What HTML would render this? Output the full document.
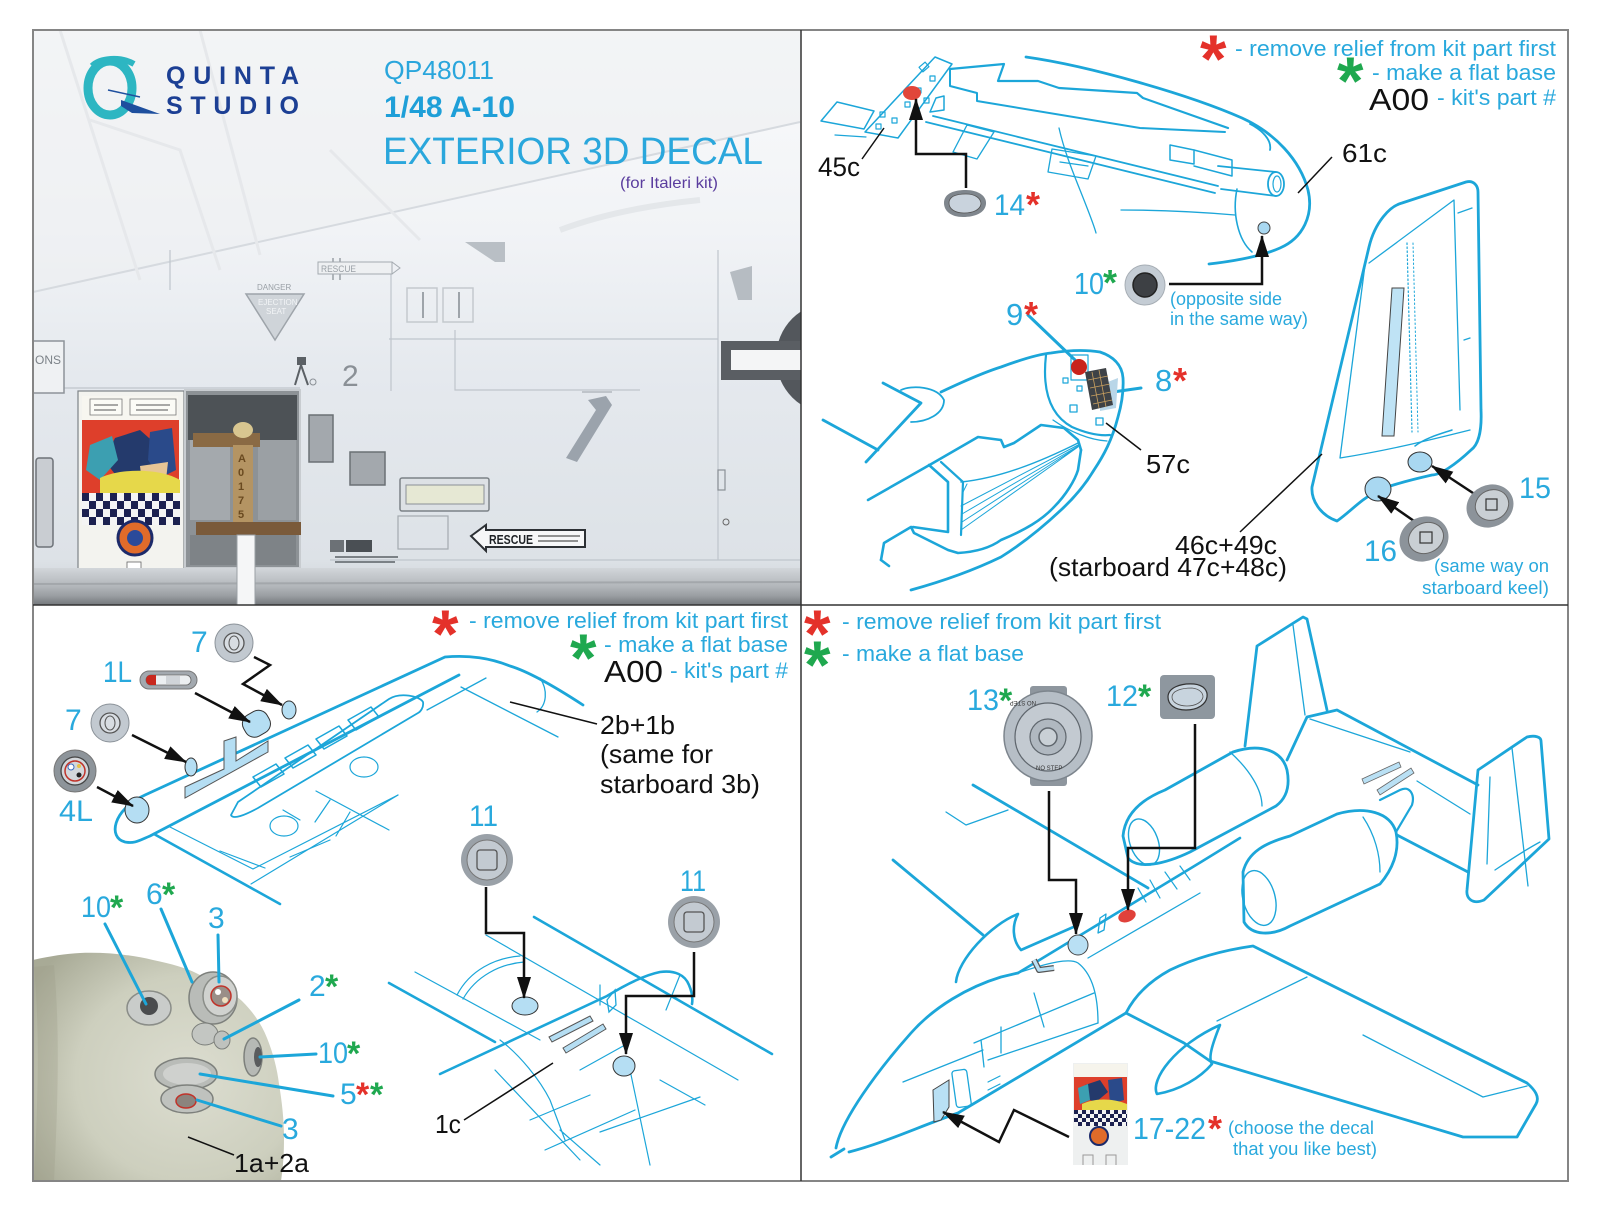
<!DOCTYPE html>
<html><head><meta charset="utf-8">
<style>
html,body{margin:0;padding:0;background:#fff;}
svg{display:block;}
text{font-family:"Liberation Sans",Arial,sans-serif;}
</style></head><body>
<svg width="1600" height="1210" viewBox="0 0 1600 1210" xmlns="http://www.w3.org/2000/svg">
<defs>
  <marker id="ah" markerUnits="userSpaceOnUse" markerWidth="22" markerHeight="14" refX="21" refY="7" orient="auto">
    <path d="M0,0 L22,7 L0,14 Z" fill="#111"/>
  </marker>
  <clipPath id="photo"><rect x="33" y="30" width="768" height="575"/></clipPath>
  <clipPath id="blpanel"><rect x="34" y="606" width="766" height="574"/></clipPath>
  <linearGradient id="bg" x1="0" y1="0" x2="0" y2="1">
    <stop offset="0" stop-color="#fafbfc"/>
    <stop offset="0.35" stop-color="#f1f3f6"/>
    <stop offset="0.6" stop-color="#e5e9ee"/>
    <stop offset="0.92" stop-color="#dde2e7"/>
    <stop offset="1" stop-color="#c9cdd1"/>
  </linearGradient>
  <linearGradient id="strip" x1="0" y1="0" x2="0" y2="1">
    <stop offset="0" stop-color="#d2d6da"/>
    <stop offset="0.5" stop-color="#b2b6ba"/>
    <stop offset="0.75" stop-color="#9a9ea2"/>
    <stop offset="1" stop-color="#74787c"/>
  </linearGradient>
  <radialGradient id="pod" cx="0.62" cy="0.55" r="0.75">
    <stop offset="0" stop-color="#dcddd0"/>
    <stop offset="0.6" stop-color="#cdcfbe"/>
    <stop offset="1" stop-color="#a8aa96"/>
  </radialGradient>
  <pattern id="chk" x="82" y="493" width="14" height="16" patternUnits="userSpaceOnUse">
    <rect width="14" height="16" fill="#f4f4f4"/>
    <rect width="7" height="8" fill="#1c2150"/>
    <rect x="7" y="8" width="7" height="8" fill="#1c2150"/>
  </pattern>
  <pattern id="chk2" x="1074" y="1110" width="8" height="8" patternUnits="userSpaceOnUse">
    <rect width="8" height="8" fill="#f4f4f4"/>
    <rect width="4" height="4" fill="#1c2150"/>
    <rect x="4" y="4" width="4" height="4" fill="#1c2150"/>
  </pattern>
</defs>

<!-- ================= TOP-LEFT PHOTO PANEL ================= -->
<g clip-path="url(#photo)">
  <rect x="33" y="30" width="768" height="575" fill="url(#bg)"/>
  <path d="M33,30 L800,30 L800,122 L33,292 Z" fill="#eceef1" opacity="0.55"/>
  <path d="M33,292 L800,122" stroke="#d6dadf" stroke-width="2" fill="none"/>
  <path d="M60,30 L140,280 M200,30 L260,255 M330,150 L420,240 M90,120 L180,150 L220,270" stroke="#e6e8eb" stroke-width="3" fill="none"/>
  <path d="M560,230 C600,215 650,205 700,200" stroke="#e4e7ea" stroke-width="6" fill="none"/>
  <g stroke="#bfc5cc" stroke-width="1.2" fill="none">
    <path d="M389,339 L718,339"/>
    <path d="M391,262 L391,391"/>
    <path d="M455,330 L455,390 L640,390"/>
    <path d="M33,388 L300,388"/>
    <path d="M718,250 L718,560"/>
    <path d="M330,560 L800,560"/>
    <path d="M170,250 L170,290"/>
  </g>
  <path d="M333,258 L333,280 M340,258 L340,280" stroke="#9aa0a6" stroke-width="1.5"/>
  <rect x="318" y="262" width="74" height="12" fill="#eef0f2" stroke="#a4aab0" stroke-width="1"/>
  <path d="M392,262 L400,268 L392,274" fill="none" stroke="#a4aab0"/>
  <text x="321" y="272" font-size="9" fill="#9aa0a6" textLength="35" lengthAdjust="spacingAndGlyphs">RESCUE</text>
  <rect x="407" y="288" width="30" height="34" fill="none" stroke="#c4c9ce" stroke-width="1.5"/>
  <rect x="443" y="288" width="30" height="34" fill="none" stroke="#c4c9ce" stroke-width="1.5"/>
  <path d="M423,292 L423,318 M459,292 L459,318" stroke="#9ea4aa" stroke-width="2"/>
  <path d="M465,242 L505,242 L505,262 L495,262 Z" fill="#b9bfc5"/>
  <path d="M730,272 L752,266 L752,300 L738,300 Z" fill="#b6bcc2"/>
  <text x="257" y="290" font-size="8" fill="#9aa0a6">DANGER</text>
  <path d="M246,294 L304,294 L275,340 Z" fill="#cfd4d9" stroke="#9ea4aa" stroke-width="1.5"/>
  <text x="258" y="305" font-size="8" fill="#f2f4f6">EJECTION</text>
  <text x="266" y="314" font-size="8" fill="#f2f4f6">SEAT</text>
  <rect x="33" y="341" width="31" height="52" fill="#eff1f3" stroke="#8d9399" stroke-width="1.5"/>
  <text x="35" y="364" font-size="12" fill="#7c8288">ONS</text>
  <rect x="297" y="357" width="9" height="8" fill="#5b6065"/>
  <path d="M301,365 L295,385 M301,365 L308,385" stroke="#5b6065" stroke-width="2"/>
  <text x="342" y="386" font-size="30" fill="#8a9096">2</text>
  <circle cx="313" cy="382" r="3" fill="none" stroke="#8a9096"/>
  <!-- roundel & bar -->
  <circle cx="832" cy="358" r="56" fill="#53575c"/>
  <rect x="721" y="341" width="80" height="39" fill="#5a5e63"/>
  <rect x="731" y="350" width="70" height="20" fill="#f4f5f6"/>
  <path d="M588,400 L606,396 L612,405 L577,462 L566,458 L596,410 Z" fill="#9ba3ac"/>
  <path d="M582,392 L612,392" stroke="#9aa0a6" stroke-width="1"/>
  <rect x="36" y="458" width="17" height="89" rx="3" fill="#c9cdd2" stroke="#6d7278" stroke-width="1.5"/>
  <!-- comic decal -->
  <rect x="78" y="391" width="106" height="180" fill="#f3f3ef" stroke="#7e8388" stroke-width="1.2"/>
  <rect x="82" y="396" width="96" height="26" fill="#f7f6f0"/>
  <path d="M90,399 L122,399 L122,415 L90,415 Z M130,399 L176,399 L176,415 L130,415 Z" fill="#fbfbf6" stroke="#777" stroke-width="0.8"/>
  <path d="M94,405 L118,405 M94,410 L116,410 M136,405 L170,405 M136,410 L168,410" stroke="#555" stroke-width="1"/>
  <rect x="82" y="420" width="97" height="73" fill="#de3f2b"/>
  <path d="M115,438 L140,430 L158,446 L150,470 L118,478 L104,460 Z" fill="#243a6c"/>
  <path d="M150,432 L172,428 L176,470 L160,478 L148,460 Z" fill="#2a4a8a"/>
  <path d="M90,445 L112,436 L118,460 L100,480 L86,470 Z" fill="#3c9fb1"/>
  <path d="M140,466 L168,462 L166,480 L142,482 Z" fill="#e7c595"/>
  <path d="M100,478 C120,468 160,468 180,480 L180,493 L100,493 Z" fill="#e6d84a"/>
  <rect x="82" y="493" width="98" height="32" fill="url(#chk)"/>
  <circle cx="135" cy="538" r="17" fill="#e06b2a" stroke="#1c2a6a" stroke-width="3"/>
  <circle cx="135" cy="538" r="8" fill="#2a4a9a"/>
  <rect x="127" y="562" width="14" height="7" fill="#fff" stroke="#666" stroke-width="0.8"/>
  <!-- door with ladder -->
  <rect x="185" y="390" width="115" height="178" fill="#8d9296" stroke="#c8ccd0" stroke-width="2"/>
  <rect x="188" y="395" width="109" height="45" fill="#4d5256"/>
  <rect x="190" y="440" width="40" height="80" fill="#a4a9ad"/>
  <rect x="258" y="440" width="38" height="80" fill="#9ba0a4"/>
  <rect x="190" y="535" width="106" height="30" fill="#7e8387"/>
  <rect x="193" y="433" width="67" height="14" fill="#8a6a44"/>
  <ellipse cx="243" cy="430" rx="10" ry="8" fill="#d8c690"/>
  <rect x="233" y="445" width="20" height="77" fill="#b49463"/>
  <text x="238" y="462" font-size="11" font-weight="bold" fill="#6a4a20">A</text>
  <text x="238" y="476" font-size="11" font-weight="bold" fill="#6a4a20">0</text>
  <text x="238" y="490" font-size="11" font-weight="bold" fill="#6a4a20">1</text>
  <text x="238" y="504" font-size="11" font-weight="bold" fill="#6a4a20">7</text>
  <text x="238" y="518" font-size="11" font-weight="bold" fill="#6a4a20">5</text>
  <rect x="196" y="522" width="105" height="13" fill="#7a5a3a"/>
  <rect x="309" y="415" width="24" height="47" fill="#a3a8ad" stroke="#6b7075" stroke-width="1.5"/>
  <rect x="350" y="452" width="35" height="33" fill="#a3a8ad" stroke="#6b7075" stroke-width="1.5"/>
  <rect x="400" y="478" width="89" height="33" rx="2" fill="#dde1e5" stroke="#7c8287" stroke-width="1.5"/>
  <rect x="406" y="485" width="78" height="19" fill="#e6e8d4" stroke="#8a9096" stroke-width="1"/>
  <rect x="398" y="516" width="50" height="33" fill="none" stroke="#a4aab0" stroke-width="1.2"/>
  <rect x="330" y="540" width="14" height="12" fill="#6c7176"/>
  <rect x="346" y="540" width="26" height="12" fill="#4a4f54"/>
  <path d="M335,557 L398,557 M335,562 L395,562" stroke="#7b8186" stroke-width="2"/>
  <path d="M471,536 L486,525 L486,530 L585,530 L585,547 L486,547 L486,551 Z" fill="#f6f7f8" stroke="#2c3034" stroke-width="2"/>
  <text x="489" y="544" font-size="13" font-weight="bold" fill="#1e2226" textLength="44" lengthAdjust="spacingAndGlyphs">RESCUE</text>
  <path d="M538,536 L580,536 M538,541 L578,541" stroke="#555" stroke-width="1.2"/>
  <rect x="718" y="470" width="7" height="20" fill="none" stroke="#8a9096" stroke-width="1.2"/>
  <circle cx="726" cy="522" r="3" fill="none" stroke="#666"/>
  <!-- bottom strip -->
  <rect x="33" y="568" width="768" height="37" fill="url(#strip)"/>
  <path d="M33,584 L801,582" stroke="#a3a7ab" stroke-width="2"/>
  <rect x="237" y="535" width="18" height="72" fill="#f5f6f7" stroke="#9aa0a5" stroke-width="1"/>
</g>

<!-- Logo -->
<ellipse cx="110" cy="88" rx="22" ry="27" fill="none" stroke="#2db6c2" stroke-width="9"/>
<path d="M92,66 C100,58 120,56 134,64" stroke="#2db6c2" stroke-width="6" fill="none"/>
<path d="M121,100 L160,114 L132,113 L121,106 Z" fill="#1e4f9e"/>
<path d="M108,90 L140,97" stroke="#1e4f9e" stroke-width="1.5"/>
<text x="166" y="84" font-size="25" font-weight="bold" fill="#1c3f94" textLength="133" lengthAdjust="spacing">QUINTA</text>
<text x="166" y="114" font-size="25" font-weight="bold" fill="#1c3f94" textLength="133" lengthAdjust="spacing">STUDIO</text>
<text x="384" y="79" font-size="26" fill="#2aa6dc" textLength="110" lengthAdjust="spacingAndGlyphs">QP48011</text>
<text x="384" y="117" font-size="30" font-weight="bold" fill="#1e9fd8" textLength="131" lengthAdjust="spacingAndGlyphs">1/48 A-10</text>
<text x="383" y="164" font-size="38" fill="#2aa7dc" textLength="380" lengthAdjust="spacingAndGlyphs">EXTERIOR 3D DECAL</text>
<text x="620" y="188" font-size="16" fill="#5a3d9e" textLength="98" lengthAdjust="spacingAndGlyphs">(for Italeri kit)</text>

<!-- ================= TOP-RIGHT PANEL ================= -->
<g fill="none" stroke="#1ca6d9" stroke-linecap="round" stroke-linejoin="round">
  <path d="M821,121 L837,102 L874,111 L864,129 Z" stroke-width="1.5"/>
  <path d="M835,135 L866,137" stroke-width="1.2"/>
  <path d="M865,132 L935,57 L952,64 L898,138 Z" stroke-width="1.5"/>
  <g stroke-width="1.2">
    <rect x="920" y="64" width="8" height="6" transform="rotate(-40 924 67)"/>
    <rect x="930" y="76" width="5" height="5"/>
    <rect x="916" y="88" width="5" height="5"/>
    <rect x="905" y="102" width="5" height="5"/>
    <rect x="880" y="112" width="5" height="5"/>
    <rect x="892" y="118" width="5" height="5"/>
    <rect x="876" y="124" width="5" height="5"/>
    <rect x="924" y="98" width="5" height="5"/>
  </g>
  <path d="M950,69 L1004,64 L998,81 L1038,81 L1059,88 L1137,93 L1143,98 L1228,128" stroke-width="2.2"/>
  <path d="M950,69 L950,86 L977,93 L977,101 L1140,128 L1225,132" stroke-width="2"/>
  <path d="M936,98 L944,96 L944,110 L930,112 Z" stroke-width="1.5"/>
  <path d="M933,116 L1218,186" stroke-width="1.8"/>
  <path d="M926,122 C1000,140 1100,165 1215,193" stroke-width="1.8"/>
  <path d="M1026,57 C1090,66 1190,95 1242,118 C1275,133 1300,160 1308,190 C1314,215 1303,238 1280,248 C1262,256 1235,261 1209,264" stroke-width="2.8"/>
  <path d="M1250,124 C1262,130 1272,140 1270,150" stroke-width="1.8"/>
  <path d="M1237,189 C1232,213 1238,240 1252,252" stroke-width="1.6"/>
  <path d="M1170,145 L1194,150 L1194,164 L1170,160 Z" stroke-width="1.5"/>
  <path d="M1194,150 L1232,160 L1232,176 L1194,166" stroke-width="1.5"/>
  <path d="M1218,166 L1276,172 M1221,189 L1276,196" stroke-width="1.8"/>
  <ellipse cx="1276" cy="184" rx="8" ry="12" stroke-width="1.8"/>
  <ellipse cx="1277" cy="184" rx="4" ry="8" stroke-width="1.2"/>
  <path d="M1059,128 C1064,150 1072,170 1080,190 C1088,210 1094,225 1096,233" stroke-width="1.3"/>
  <path d="M1121,210 C1160,210 1200,212 1235,215" stroke-width="1.3"/>
  <path d="M967,125 L994,132 L977,159 L953,152 Z" stroke-width="1.3"/>
  <path d="M1052,149 L1096,156 L1088,179 L1048,172 Z M1060,162 L1088,166" stroke-width="1.3"/>

  <path d="M883,383 L921,403 L866,462" stroke-width="2.8"/>
  <path d="M823,420 L878,450" stroke-width="2.8"/>
  <path d="M901,390 C911,385 937,386 944,400 C944,414 927,422 911,422" stroke-width="1.8"/>
  <path d="M941,392 C960,383 985,372 1001,367 C1020,360 1040,354 1051,353 C1070,350 1088,350 1100,352 C1112,356 1122,364 1123,378 C1124,395 1120,410 1118,417 C1112,440 1104,455 1094,470 C1085,485 1074,498 1061,510 C1045,525 1025,542 1001,557 C970,572 940,582 911,590" stroke-width="2.8"/>
  <path d="M1046,355 C1042,390 1050,415 1072,427 C1088,434 1100,436 1110,435" stroke-width="2.2"/>
  <path d="M1053,420 C1070,432 1090,440 1107,441" stroke-width="1.3"/>
  <path d="M868,500 L933,463 L978,437 L1001,440 L1004,447 L1014,443 L1041,425 L1064,428 L1078,440 L1081,450" stroke-width="2.6"/>
  <path d="M929,465 L948,482 L948,532 L913,527" stroke-width="2.6"/>
  <path d="M941,462 L963,482 L961,535" stroke-width="2.2"/>
  <path d="M881,560 L884,543 L911,527 L914,533 L948,550 L958,553 C975,552 990,548 1001,540 C1025,530 1042,520 1054,507 C1066,495 1075,480 1078,470 L1081,450" stroke-width="2.6"/>
  <path d="M881,560 L889,566" stroke-width="2.6"/>
  <path d="M961,482 C1000,478 1040,462 1078,443" stroke-width="1.4"/>
  <path d="M961,530 L1078,447 M962,522 L1079,446 M962,514 L1080,445 M961,506 L1080,444 M962,494 L967,484" stroke-width="1"/>
  <rect x="1071" y="355" width="17" height="25" stroke-width="1.2"/>
  <rect x="1063" y="378" width="5" height="5" stroke-width="1.2"/>
  <rect x="1077" y="386" width="5" height="5" stroke-width="1.2"/>
  <rect x="1070" y="405" width="7" height="7" stroke-width="1.3"/>
  <rect x="1096" y="418" width="7" height="7" stroke-width="1.3"/>
  <path d="M1113,392 L1141,388" stroke-width="3"/>
  <path d="M1028,315 L1075,360" stroke-width="3"/>

  <path d="M1337,521 C1320,515 1311,500 1312,487 L1369,247 C1375,222 1390,206 1402,203 L1466,182 C1474,180 1478,186 1478,192 L1481,410 C1482,432 1478,445 1471,450 C1455,465 1440,475 1432,475 C1410,480 1390,485 1377,491 C1360,500 1350,512 1337,521 Z" stroke-width="2.8"/>
  <path d="M1369,263 L1454,200 L1460,410 M1365,265 L1340,458 M1340,458 C1390,450 1430,440 1470,430" stroke-width="1.3"/>
  <path d="M1407,243 L1412,432" stroke-width="1.2" stroke-dasharray="1.5,2.5"/>
  <path d="M1413,243 L1418,432" stroke-width="1" stroke-dasharray="1.5,2.5"/>
  <path d="M1458,213 L1472,208 M1464,340 L1470,338" stroke-width="1.3"/>
  <path d="M1415,446 C1425,438 1440,434 1452,430" stroke-width="1.5"/>
</g>
<polygon points="1392,288 1404,288 1394,436 1382,436" fill="#bfe3f5" stroke="#444" stroke-width="1"/>
<ellipse cx="1420" cy="462" rx="12" ry="10" fill="#a9d8f1" stroke="#333" stroke-width="1"/>
<ellipse cx="1378" cy="489" rx="13" ry="12" fill="#a9d8f1" stroke="#333" stroke-width="1"/>

<ellipse cx="912" cy="93" rx="9" ry="7" fill="#e1463a"/>
<path d="M966,188 L966,154 L916,154 L916,99" fill="none" stroke="#111" stroke-width="2.5" marker-end="url(#ah)"/>
<path d="M944,203 C944,193 955,190 966,190 C978,190 987,196 986,204 C985,213 975,217 963,217 C951,217 944,211 944,203 Z" fill="#7f868d"/>
<path d="M949,203 C949,196 957,194 966,194 C975,194 981,198 981,204 C980,210 973,213 964,213 C955,213 949,209 949,203 Z" fill="#c9d3dd" stroke="#555" stroke-width="0.8"/>
<circle cx="1145" cy="285" r="20" fill="#c4ccd4" stroke="#a7aeb5" stroke-width="1"/>
<circle cx="1145" cy="285" r="12" fill="#3d4044" stroke="#222" stroke-width="1.5"/>
<path d="M1169,284 L1262,284 L1262,236" fill="none" stroke="#111" stroke-width="2.5" marker-end="url(#ah)"/>
<circle cx="1264" cy="228" r="6" fill="#a9d8f1" stroke="#444" stroke-width="1"/>
<circle cx="1079" cy="367" r="8" fill="#c8231c"/>
<polygon points="1100,385 1118,378 1116,408 1100,411" fill="#b9d6e8"/>
<polygon points="1085,372 1106,368 1113,405 1092,410" fill="#3e4246"/>
<path d="M1088,380 L1108,376 M1090,388 L1110,384 M1091,396 L1111,392 M1093,404 L1112,400 M1092,372 L1099,408 M1099,370 L1106,407" stroke="#c9a060" stroke-width="0.8"/>
<path d="M1106,423 L1141,450" stroke="#111" stroke-width="1.5"/>
<path d="M862,159 L884,128" stroke="#111" stroke-width="1.5"/>
<path d="M1298,193 L1332,157" stroke="#111" stroke-width="1.5"/>
<path d="M1240,532 L1322,454" stroke="#111" stroke-width="1.5"/>
<path d="M1476,495 L1432,466" stroke="#111" stroke-width="2.5" marker-end="url(#ah)"/>
<path d="M1414,521 L1378,496" stroke="#111" stroke-width="2.5" marker-end="url(#ah)"/>
<ellipse cx="1490" cy="506" rx="24" ry="21" fill="#8c939a" transform="rotate(-25 1490 506)"/>
<ellipse cx="1492" cy="505" rx="17" ry="15" fill="#c9cfd4" stroke="#666" stroke-width="1" transform="rotate(-25 1492 505)"/>
<rect x="1486" y="499" width="11" height="11" fill="none" stroke="#333" stroke-width="1.2"/>
<ellipse cx="1424" cy="539" rx="25" ry="22" fill="#8c939a" transform="rotate(-25 1424 539)"/>
<ellipse cx="1426" cy="538" rx="18" ry="15" fill="#c9cfd4" stroke="#666" stroke-width="1" transform="rotate(-25 1426 538)"/>
<rect x="1420" y="532" width="12" height="11" fill="none" stroke="#333" stroke-width="1.2"/>

<!-- top-right texts -->
<text x="1200" y="82" font-size="68" font-weight="bold" fill="#e4312a">*</text>
<text x="1235" y="56" font-size="22" fill="#29a9dd" textLength="321" lengthAdjust="spacingAndGlyphs">- remove relief from kit part first</text>
<text x="1337" y="104" font-size="68" font-weight="bold" fill="#1fa84f">*</text>
<text x="1372" y="80" font-size="22" fill="#29a9dd" textLength="184" lengthAdjust="spacingAndGlyphs">- make a flat base</text>
<text x="1369" y="110" font-size="31" fill="#111" textLength="60" lengthAdjust="spacingAndGlyphs">A00</text>
<text x="1437" y="105" font-size="22" fill="#29a9dd" textLength="119" lengthAdjust="spacingAndGlyphs">- kit's part #</text>
<text x="818" y="176" font-size="27" fill="#111" textLength="42" lengthAdjust="spacingAndGlyphs">45c</text>
<text x="994" y="215" font-size="30" fill="#29a9dd" textLength="31" lengthAdjust="spacingAndGlyphs">14</text>
<text x="1026" y="217" font-size="36" font-weight="bold" fill="#e4312a">*</text>
<text x="1342" y="162" font-size="26" fill="#111" textLength="45" lengthAdjust="spacingAndGlyphs">61c</text>
<text x="1074" y="294" font-size="31" fill="#29a9dd" textLength="30" lengthAdjust="spacingAndGlyphs">10</text>
<text x="1103" y="295" font-size="36" font-weight="bold" fill="#1fa84f">*</text>
<text x="1170" y="305" font-size="18" fill="#29a9dd" textLength="112" lengthAdjust="spacingAndGlyphs">(opposite side</text>
<text x="1170" y="325" font-size="18" fill="#29a9dd" textLength="138" lengthAdjust="spacingAndGlyphs">in the same way)</text>
<text x="1006" y="325" font-size="31" fill="#29a9dd">9</text>
<text x="1024" y="327" font-size="36" font-weight="bold" fill="#e4312a">*</text>
<text x="1155" y="391" font-size="31" fill="#29a9dd">8</text>
<text x="1173" y="393" font-size="36" font-weight="bold" fill="#e4312a">*</text>
<text x="1146" y="473" font-size="26" fill="#111" textLength="44" lengthAdjust="spacingAndGlyphs">57c</text>
<text x="1175" y="554" font-size="26" fill="#111" textLength="102" lengthAdjust="spacingAndGlyphs">46c+49c</text>
<text x="1049" y="576" font-size="26" fill="#111" textLength="238" lengthAdjust="spacingAndGlyphs">(starboard 47c+48c)</text>
<text x="1519" y="498" font-size="30" fill="#29a9dd" textLength="32" lengthAdjust="spacingAndGlyphs">15</text>
<text x="1364" y="561" font-size="30" fill="#29a9dd" textLength="33" lengthAdjust="spacingAndGlyphs">16</text>
<text x="1434" y="572" font-size="18" fill="#29a9dd" textLength="115" lengthAdjust="spacingAndGlyphs">(same way on</text>
<text x="1422" y="594" font-size="18" fill="#29a9dd" textLength="127" lengthAdjust="spacingAndGlyphs">starboard keel)</text>

<!-- ================= BOTTOM-LEFT PANEL ================= -->
<g clip-path="url(#blpanel)">
<path d="M33,960 C50,956 65,954 80,953 C108,952 132,955 153,960 C172,964 186,968 196,973 C216,983 232,992 242,1001 C254,1013 262,1025 267,1038 C273,1053 277,1068 279,1084 C282,1102 284,1120 284,1138 C284,1155 283,1168 281,1181 L33,1181 Z" fill="url(#pod)"/>
<path d="M44,966 C50,1030 48,1100 44,1181" stroke="#9a9d88" stroke-width="20" fill="none" opacity="0.3"/>
</g>
<ellipse cx="149" cy="1008" rx="22" ry="17" fill="#c9ccca" stroke="#8a8d88" stroke-width="1.5"/>
<circle cx="149" cy="1006" r="9" fill="#4a4c4e"/>
<ellipse cx="213" cy="998" rx="24" ry="26" fill="#b9bcb8" stroke="#7d807c" stroke-width="1.5"/>
<ellipse cx="220" cy="996" rx="17" ry="20" fill="#d0d2cf" stroke="#8a8d88" stroke-width="1.5"/>
<circle cx="221" cy="996" r="10" fill="#9a8f88" stroke="#c0332a" stroke-width="1.5"/>
<circle cx="218" cy="992" r="3" fill="#fff"/>
<circle cx="225" cy="1000" r="3" fill="#f0e0c0"/>
<ellipse cx="205" cy="1034" rx="13" ry="11" fill="#c3c6c2" stroke="#7d807c"/>
<ellipse cx="222" cy="1040" rx="8" ry="9" fill="#bfc2be" stroke="#7d807c"/>
<ellipse cx="253" cy="1057" rx="9" ry="19" fill="#b6b9b5" stroke="#7d807c" stroke-width="1.5"/>
<ellipse cx="258" cy="1057" rx="4" ry="10" fill="#5a5c5e"/>
<ellipse cx="186" cy="1074" rx="31" ry="16" fill="#b9bcb8" stroke="#7d807c" stroke-width="1.5"/>
<ellipse cx="187" cy="1074" rx="24" ry="11" fill="#cfd1ce"/>
<ellipse cx="187" cy="1099" rx="26" ry="14" fill="#bfc2be" stroke="#7d807c" stroke-width="1.5"/>
<ellipse cx="186" cy="1101" rx="10" ry="7" fill="#8c847e" stroke="#c0332a" stroke-width="1.5"/>
<g stroke="#1ca6d9" stroke-width="3" stroke-linecap="round" fill="none">
  <path d="M105,924 L146,1004"/>
  <path d="M161,909 L192,982"/>
  <path d="M218,935 L219,982"/>
  <path d="M299,1000 L224,1039"/>
  <path d="M316,1054 L260,1057"/>
  <path d="M333,1096 L200,1074"/>
  <path d="M281,1126 L197,1100"/>
</g>
<path d="M234,1155 L188,1137" stroke="#111" stroke-width="1.5"/>

<g fill="none" stroke="#1ca6d9" stroke-linecap="round" stroke-linejoin="round">
  <path d="M583,705 C560,690 530,672 510,666 C490,658 470,655 445,657 L145,795 C112,810 108,838 125,842 C135,844 140,840 150,836 L459,675" stroke-width="2.8"/>
  <path d="M461,687 L558,737" stroke-width="1.3"/>
  <path d="M427,710 L486,678" stroke-width="1.3"/>
  <path d="M540,678 C548,690 547,705 537,712" stroke-width="1.3"/>
  <path d="M231,815 L238,802 L389,699 C400,692 420,696 423,702 C424,708 420,712 418,713 L258,808 C245,815 233,820 231,815 Z" stroke-width="1.8"/>
  <path d="M253,777 L276,764 L284,774 L261,787 Z M285,758 L308,745 L316,755 L293,768 Z M316,739 L339,726 L347,736 L324,749 Z M348,720 L371,707 L379,717 L356,730 Z" stroke-width="1.5"/>
  <ellipse cx="364" cy="767" rx="14" ry="10" stroke-width="1.2"/>
  <ellipse cx="284" cy="826" rx="14" ry="10" stroke-width="1.2"/>
  <path d="M154,834 L280,904" stroke-width="2.6"/>
  <path d="M168,826 L253,869 L398,795" stroke-width="1.2"/>
  <path d="M251,884 L398,795" stroke-width="1.2"/>
  <path d="M316,791 L389,830 M283,810 L300,820 M330,800 L315,822 M350,812 L336,836 M290,857 L330,840" stroke-width="1.2"/>
  <path d="M220,851 L265,868" stroke-width="1.2"/>
  <path d="M534,917 L772,1054" stroke-width="2.6"/>
  <path d="M389,983 L495,1042" stroke-width="2.6"/>
  <path d="M440,1074 L607,996 C625,985 645,975 660,972 C675,970 685,975 689,985 C692,992 693,998 692,1004" stroke-width="2.6"/>
  <path d="M415,972 L540,1040 M486,935 L738,1080" stroke-width="1.2"/>
  <path d="M457,995 C470,970 495,958 520,956 M463,999 C476,976 500,964 524,962" stroke-width="1.2"/>
  <path d="M500,1040 C520,1055 540,1080 550,1100 L565,1140 M495,1070 L580,1160 M530,1120 L590,1095 M545,1150 L635,1110 M600,1132 L700,1097 M630,1070 L650,1165 M660,1080 L705,1105 M580,1070 L625,1045 M560,1130 L600,1165" stroke-width="1.2"/>
  <path d="M600,985 L600,1005 M680,975 L666,1010" stroke-width="1.2"/>
</g>
<polygon points="185,787 224,769 224,741 236,737 236,761 268,741 268,752 185,798" fill="#b5def3" stroke="#555" stroke-width="1"/>
<polygon points="549,1037 590,1016 593,1021 552,1042" fill="#b5def3" stroke="#555" stroke-width="1"/>
<polygon points="563,1048 603,1024 606,1029 566,1053" fill="#b5def3" stroke="#555" stroke-width="1"/>
<polygon points="607,1000 615,990 616,1005 609,1012" fill="none" stroke="#1ca6d9" stroke-width="1.3"/>
<ellipse cx="525" cy="1006" rx="13" ry="9" fill="#b5def3" stroke="#333" stroke-width="1"/>
<ellipse cx="624" cy="1066" rx="11" ry="10" fill="#b5def3" stroke="#333" stroke-width="1"/>
<ellipse cx="289" cy="710" rx="7" ry="9" fill="#b5def3" stroke="#333" stroke-width="1"/>
<rect x="243" y="712" width="27" height="24" rx="10" fill="#b5def3" stroke="#333" stroke-width="1" transform="rotate(-30 256 724)"/>
<ellipse cx="191" cy="767" rx="6" ry="9" fill="#b5def3" stroke="#333" stroke-width="1"/>
<ellipse cx="137" cy="810" rx="12" ry="13" fill="#b5def3" stroke="#333" stroke-width="1"/>
<path d="M254,657 L270,665 L243,684 L282,705" fill="none" stroke="#111" stroke-width="2.5" marker-end="url(#ah)"/>
<path d="M195,693 L250,722" fill="none" stroke="#111" stroke-width="2.5" marker-end="url(#ah)"/>
<path d="M132,735 L186,762" fill="none" stroke="#111" stroke-width="2.5" marker-end="url(#ah)"/>
<path d="M97,787 L133,806" fill="none" stroke="#111" stroke-width="2.5" marker-end="url(#ah)"/>
<path d="M510,702 L597,724" stroke="#111" stroke-width="1.5"/>
<path d="M464,1120 L553,1063" stroke="#111" stroke-width="1.5"/>
<circle cx="234" cy="643" r="19" fill="#c2c9d0" stroke="#8c939a" stroke-width="1"/>
<circle cx="234" cy="643" r="10" fill="#d8dde2" stroke="#555" stroke-width="1.3"/>
<ellipse cx="234" cy="643" rx="5" ry="7" fill="none" stroke="#555" stroke-width="1"/>
<rect x="140" y="671" width="57" height="18" rx="9" fill="#a3a9af" stroke="#777" stroke-width="1"/>
<rect x="146" y="675" width="45" height="10" rx="5" fill="#eceff1" stroke="#666" stroke-width="0.8"/>
<path d="M156,675 L151,675 C147,675 146,678 146,680 C146,683 148,685 151,685 L156,685 Z" fill="#c8281e"/>
<rect x="166" y="676" width="14" height="8" fill="#d0d4d8"/>
<circle cx="110" cy="723" r="19" fill="#c2c9d0" stroke="#8c939a" stroke-width="1"/>
<circle cx="110" cy="723" r="10" fill="#d8dde2" stroke="#555" stroke-width="1.3"/>
<ellipse cx="110" cy="723" rx="5" ry="7" fill="none" stroke="#555" stroke-width="1"/>
<circle cx="75" cy="771" r="21" fill="#8d949a" stroke="#777" stroke-width="1"/>
<circle cx="75" cy="771" r="14" fill="#d3d7db" stroke="#444" stroke-width="1.3"/>
<circle cx="75" cy="771" r="10" fill="none" stroke="#c0332a" stroke-width="1.5"/>
<circle cx="71" cy="767" r="3" fill="#fff" stroke="#3a6ac0"/>
<circle cx="79" cy="775" r="2.5" fill="#222"/>
<circle cx="79" cy="766" r="2" fill="#e8c24a"/>
<circle cx="487" cy="860" r="26" fill="#9aa1a8"/>
<circle cx="487" cy="860" r="20" fill="#c3cad1" stroke="#777" stroke-width="1"/>
<rect x="477" y="850" width="20" height="20" rx="3" fill="none" stroke="#555" stroke-width="1.3"/>
<circle cx="694" cy="922" r="26" fill="#9aa1a8"/>
<circle cx="694" cy="922" r="20" fill="#c3cad1" stroke="#777" stroke-width="1"/>
<rect x="684" y="912" width="20" height="20" rx="3" fill="none" stroke="#555" stroke-width="1.3"/>
<path d="M486,887 L486,933 L524,933 L524,998" fill="none" stroke="#111" stroke-width="2.5" marker-end="url(#ah)"/>
<path d="M694,952 L694,996 L626,996 L626,1054" fill="none" stroke="#111" stroke-width="2.5" marker-end="url(#ah)"/>

<!-- bottom-left texts -->
<text x="432" y="657" font-size="68" font-weight="bold" fill="#e4312a">*</text>
<text x="469" y="628" font-size="22" fill="#29a9dd" textLength="319" lengthAdjust="spacingAndGlyphs">- remove relief from kit part first</text>
<text x="570" y="681" font-size="68" font-weight="bold" fill="#1fa84f">*</text>
<text x="604" y="652" font-size="22" fill="#29a9dd" textLength="184" lengthAdjust="spacingAndGlyphs">- make a flat base</text>
<text x="604" y="682" font-size="31" fill="#111" textLength="59" lengthAdjust="spacingAndGlyphs">A00</text>
<text x="670" y="678" font-size="22" fill="#29a9dd" textLength="118" lengthAdjust="spacingAndGlyphs">- kit's part #</text>
<text x="191" y="652" font-size="30" fill="#29a9dd">7</text>
<text x="103" y="682" font-size="30" fill="#29a9dd" textLength="29" lengthAdjust="spacingAndGlyphs">1L</text>
<text x="65" y="730" font-size="30" fill="#29a9dd">7</text>
<text x="59" y="821" font-size="30" fill="#29a9dd" textLength="34" lengthAdjust="spacingAndGlyphs">4L</text>
<text x="600" y="734" font-size="26" fill="#111" textLength="75" lengthAdjust="spacingAndGlyphs">2b+1b</text>
<text x="600" y="763" font-size="26" fill="#111" textLength="113" lengthAdjust="spacingAndGlyphs">(same for</text>
<text x="600" y="793" font-size="26" fill="#111" textLength="160" lengthAdjust="spacingAndGlyphs">starboard 3b)</text>
<text x="469" y="826" font-size="30" fill="#29a9dd" textLength="29" lengthAdjust="spacingAndGlyphs">11</text>
<text x="680" y="891" font-size="30" fill="#29a9dd" textLength="26" lengthAdjust="spacingAndGlyphs">11</text>
<text x="81" y="917" font-size="30" fill="#29a9dd" textLength="30" lengthAdjust="spacingAndGlyphs">10</text>
<text x="110" y="919" font-size="34" font-weight="bold" fill="#1fa84f">*</text>
<text x="146" y="904" font-size="30" fill="#29a9dd">6</text>
<text x="162" y="906" font-size="34" font-weight="bold" fill="#1fa84f">*</text>
<text x="208" y="928" font-size="30" fill="#29a9dd">3</text>
<text x="309" y="996" font-size="30" fill="#29a9dd">2</text>
<text x="325" y="998" font-size="34" font-weight="bold" fill="#1fa84f">*</text>
<text x="318" y="1063" font-size="30" fill="#29a9dd" textLength="30" lengthAdjust="spacingAndGlyphs">10</text>
<text x="347" y="1065" font-size="34" font-weight="bold" fill="#1fa84f">*</text>
<text x="340" y="1104" font-size="30" fill="#29a9dd">5</text>
<text x="356" y="1106" font-size="34" font-weight="bold" fill="#e4312a">*</text>
<text x="370" y="1106" font-size="34" font-weight="bold" fill="#1fa84f">*</text>
<text x="282" y="1139" font-size="30" fill="#29a9dd">3</text>
<text x="234" y="1172" font-size="26" fill="#111" textLength="75" lengthAdjust="spacingAndGlyphs">1a+2a</text>
<text x="435" y="1133" font-size="26" fill="#111" textLength="26" lengthAdjust="spacingAndGlyphs">1c</text>

<!-- ================= BOTTOM-RIGHT PANEL ================= -->
<g fill="none" stroke="#1ca6d9" stroke-linecap="round" stroke-linejoin="round">
  <path d="M973,785 L1148,888" stroke-width="2.8"/>
  <path d="M893,860 L983,935" stroke-width="2.8"/>
  <path d="M946,812 L966,825 L1008,810" stroke-width="1.3"/>
  <path d="M956,982 C958,960 990,925 1018,914 C1012,925 1012,940 1021,950 L1078,925" stroke-width="2.6"/>
  <path d="M836,1148 C841,1120 878,1070 911,1033 C934,1007 968,987 1001,977 L1018,973" stroke-width="2.8"/>
  <path d="M831,1157 L844,1149" stroke-width="2.8"/>
  <path d="M849,1152 C884,1143 918,1127 958,1113 L1126,1013" stroke-width="2.8"/>
  <path d="M1018,973 L1201,862 L1240,838" stroke-width="2.6"/>
  <path d="M1126,1013 C1135,995 1150,981 1170,970 C1195,958 1225,950 1253,946 L1527,1083 C1535,1090 1540,1097 1536,1104 L1517,1137 L1463,1137 L1210,1061 L1184,1043 L1126,1013" stroke-width="2.8"/>
  <path d="M1157,1094 C1150,1080 1175,1045 1220,1025 C1212,1045 1208,1058 1212,1064 C1200,1078 1180,1090 1157,1094 Z" stroke-width="2.6"/>
  <path d="M1363,1035 L1483,1097 L1527,1086" stroke-width="1.3"/>
  <path d="M1217,1021 L1307,977" stroke-width="1.3"/>
  <path d="M1123,836 C1125,815 1140,800 1165,790 L1233,752 C1260,743 1282,750 1287,770 C1291,790 1284,800 1276,806 L1190,852 C1165,864 1138,870 1128,858 Z" stroke-width="2.8"/>
  <ellipse cx="1144" cy="842" rx="14" ry="24" transform="rotate(-20 1144 842)" stroke-width="1.4"/>
  <path d="M1230,752 C1250,770 1262,790 1262,806" stroke-width="1.3"/>
  <path d="M1243,872 C1248,852 1265,843 1290,836 L1337,814 C1365,806 1390,812 1396,832 C1400,852 1392,870 1380,884 L1290,926 C1272,936 1252,936 1244,922 Z" stroke-width="2.8"/>
  <ellipse cx="1259" cy="898" rx="16" ry="28" transform="rotate(-15 1259 898)" stroke-width="1.4"/>
  <path d="M1363,817 C1375,835 1380,855 1380,872" stroke-width="1.3"/>
  <path d="M1245,746 L1257,646 L1303,617 L1307,619 L1327,710" stroke-width="2.8"/>
  <path d="M1293,625 L1305,715" stroke-width="1.3"/>
  <path d="M1287,760 L1307,717 L1337,710 L1478,785" stroke-width="2.8"/>
  <path d="M1397,835 L1468,872" stroke-width="2.8"/>
  <path d="M1310,719 L1410,752 M1417,781 L1470,814" stroke-width="1.3"/>
  <path d="M1380,800 L1400,790 C1410,785 1415,795 1412,805 L1396,832" stroke-width="2.2"/>
  <path d="M1478,770 L1527,737 C1535,735 1541,737 1541,741 L1549,839 L1484,900 C1472,905 1466,898 1467,890 Z" stroke-width="2.8"/>
  <path d="M1490,777 L1487,864 M1512,748 L1528,886 M1495,870 C1510,860 1525,850 1540,842" stroke-width="1.3"/>
  <path d="M1088,958 L1200,893 M974,1043 L1094,993 M988,1060 L1098,1023" stroke-width="1.3"/>
  <path d="M1018,973 C1050,962 1070,958 1078,963 C1091,973 1098,993 1098,1023" stroke-width="1.3"/>
  <path d="M1034,993 L1044,1027 M1001,1027 L1001,1053 M981,1040 L984,1067 M903,1082 L983,1050" stroke-width="1.3"/>
  <path d="M1150,880 L1160,898 M1165,872 L1177,889 M1180,866 L1190,880 M1138,888 L1146,902" stroke-width="1.2"/>
  <rect x="954" y="1070" width="15" height="37" rx="3" stroke-width="1.3" transform="rotate(-8 961 1088)"/>
  <path d="M988,1082 L1000,1076 M988,1090 L1000,1084" stroke-width="1.2"/>
  <path d="M1098,933 L1100,918 L1106,914 L1104,930 Z" stroke-width="1.3"/>
</g>
<polygon points="1362,779 1399,762 1401,767 1364,784" fill="#b9e0f4" stroke="#666" stroke-width="0.8"/>
<polygon points="1377,790 1411,768 1414,773 1380,795" fill="#b9e0f4" stroke="#666" stroke-width="0.8"/>
<polygon points="933,1090 949,1080 949,1107 941,1120 934,1122" fill="#b9e0f4" stroke="#444" stroke-width="1"/>
<path d="M1034,960 L1039,970 L1054,968" fill="none" stroke="#555" stroke-width="6" stroke-linejoin="round"/>
<path d="M1034,960 L1039,970 L1054,968" fill="none" stroke="#b9e0f4" stroke-width="3.5" stroke-linejoin="round"/>
<circle cx="1078" cy="945" r="10" fill="#b9e0f4" stroke="#444" stroke-width="1"/>
<ellipse cx="1127" cy="916" rx="9" ry="6" fill="#e0413a" transform="rotate(-20 1127 916)"/>
<path d="M1049,791 L1049,880 L1076,880 L1076,934" fill="none" stroke="#111" stroke-width="2.5" marker-end="url(#ah)"/>
<path d="M1195,724 L1195,848 L1128,848 L1128,910" fill="none" stroke="#111" stroke-width="2.5" marker-end="url(#ah)"/>
<path d="M1069,1137 L1014,1110 L999,1142 L943,1112" fill="none" stroke="#111" stroke-width="2.5" marker-end="url(#ah)"/>
<rect x="1030" y="686" width="37" height="16" rx="3" fill="#8e969e"/>
<rect x="1030" y="770" width="37" height="16" rx="3" fill="#8e969e"/>
<ellipse cx="1048" cy="736" rx="44" ry="45" fill="#b6bec6" stroke="#7d858d" stroke-width="1.5"/>
<ellipse cx="1048" cy="737" rx="33" ry="34" fill="#c3cad1" stroke="#5f666d" stroke-width="1.2"/>
<ellipse cx="1048" cy="737" rx="18" ry="18" fill="#b0b8c0" stroke="#5f666d" stroke-width="1.2"/>
<ellipse cx="1048" cy="737" rx="9" ry="9" fill="#c9d0d6" stroke="#5f666d" stroke-width="1.5"/>
<text x="1062" y="705" font-size="6" fill="#333" transform="rotate(180 1049 703)">NO STEP</text>
<text x="1036" y="770" font-size="6" fill="#333">NO STEP</text>
<rect x="1160" y="675" width="55" height="44" rx="4" fill="#8e979f"/>
<path d="M1168,697 C1168,688 1180,683 1194,684 C1204,685 1208,691 1207,697 C1206,704 1198,710 1186,710 C1174,710 1168,704 1168,697 Z" fill="#c8d4de" stroke="#333" stroke-width="1.2"/>
<path d="M1172,697 C1172,691 1181,688 1192,688 C1200,689 1203,693 1203,697 C1202,702 1196,706 1187,706 C1178,706 1172,702 1172,697 Z" fill="none" stroke="#555" stroke-width="0.8"/>
<rect x="1073" y="1063" width="55" height="102" fill="#eef0f0"/>
<rect x="1074" y="1064" width="53" height="13" fill="#f6f4ec"/>
<rect x="1074" y="1077" width="53" height="34" fill="#de3f2b"/>
<path d="M1085,1085 L1100,1080 L1108,1092 L1096,1102 L1084,1098 Z" fill="#243a6c"/>
<path d="M1108,1080 L1122,1078 L1124,1100 L1110,1104 Z" fill="#2a4a8a"/>
<path d="M1078,1088 L1088,1084 L1090,1100 L1080,1104 Z" fill="#3c9fb1"/>
<path d="M1082,1104 C1095,1098 1112,1098 1127,1104 L1127,1111 L1082,1111 Z" fill="#e6d84a"/>
<rect x="1074" y="1110" width="53" height="16" fill="url(#chk2)"/>
<circle cx="1099" cy="1136" r="9" fill="#e06b2a" stroke="#1c2a6a" stroke-width="2"/>
<path d="M1083,1165 L1083,1155 L1093,1155 L1093,1165 M1106,1165 L1106,1155 L1116,1155 L1116,1165" fill="none" stroke="#999" stroke-width="1"/>

<!-- bottom-right texts -->
<text x="804" y="657" font-size="68" font-weight="bold" fill="#e4312a">*</text>
<text x="842" y="629" font-size="22" fill="#29a9dd" textLength="319" lengthAdjust="spacingAndGlyphs">- remove relief from kit part first</text>
<text x="804" y="688" font-size="68" font-weight="bold" fill="#1fa84f">*</text>
<text x="842" y="661" font-size="22" fill="#29a9dd" textLength="182" lengthAdjust="spacingAndGlyphs">- make a flat base</text>
<text x="967" y="710" font-size="30" fill="#29a9dd" textLength="32" lengthAdjust="spacingAndGlyphs">13</text>
<text x="999" y="712" font-size="34" font-weight="bold" fill="#1fa84f">*</text>
<text x="1106" y="706" font-size="30" fill="#29a9dd" textLength="32" lengthAdjust="spacingAndGlyphs">12</text>
<text x="1138" y="708" font-size="34" font-weight="bold" fill="#1fa84f">*</text>
<text x="1133" y="1139" font-size="31" fill="#29a9dd" textLength="73" lengthAdjust="spacingAndGlyphs">17-22</text>
<text x="1208" y="1141" font-size="36" font-weight="bold" fill="#e4312a">*</text>
<text x="1228" y="1134" font-size="18" fill="#29a9dd" textLength="146" lengthAdjust="spacingAndGlyphs">(choose the decal</text>
<text x="1233" y="1155" font-size="18" fill="#29a9dd" textLength="144" lengthAdjust="spacingAndGlyphs">that you like best)</text>

<!-- ================= FRAME ================= -->
<rect x="33" y="30" width="1535" height="1151" fill="none" stroke="#858585" stroke-width="2"/>
<path d="M801,30 L801,1181" stroke="#333" stroke-width="1.5"/>
<path d="M33,605 L1568,605" stroke="#333" stroke-width="1.5"/>
</svg>
</body></html>
